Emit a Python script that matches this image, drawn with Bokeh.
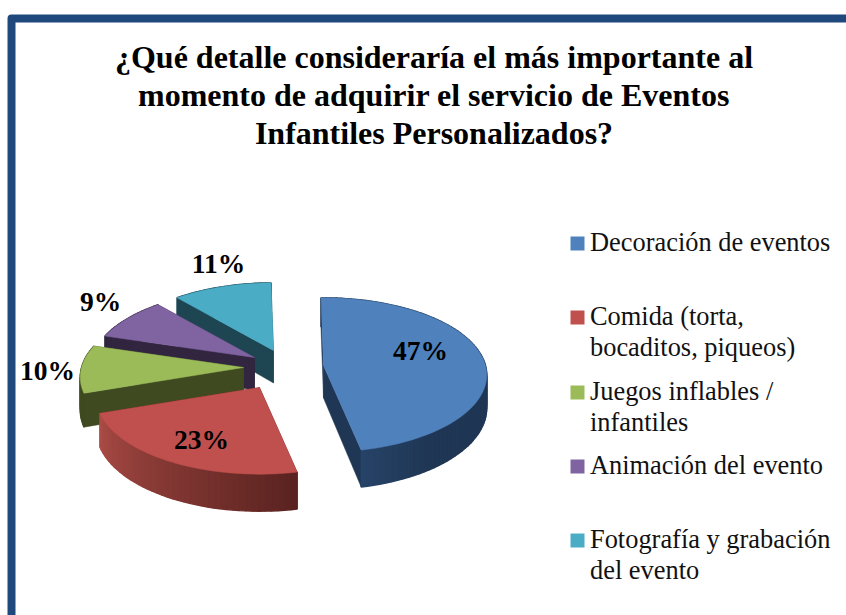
from math import sin, cos, radians
from bokeh.plotting import figure
from bokeh.core.properties import value
from bokeh.embed import file_html
from bokeh.resources import INLINE

# ---- data ----
title_lines = ["¿Qué detalle consideraría el más importante al",
               "momento de adquirir el servicio de Eventos",
               "Infantiles Personalizados?"]
categories = [["Decoración de eventos"],
              ["Comida (torta,", "bocaditos, piqueos)"],
              ["Juegos inflables /", "infantiles"],
              ["Animación del evento"],
              ["Fotografía y grabación", "del evento"]]
values = [47, 23, 10, 9, 11]

# ---- styles ----
top_colors = ["#4f81bd", "#c0504d", "#9bbb59", "#8064a2", "#4bacc6"]
inner_colors = ["#1f3654", "#5a2320", "#3f4a20", "#31253f", "#1e4652"]
wall_start = ["#1f3654", "#aa4b45", "#3f4a20", "#31253f", "#1e4652"]
wall_end = ["#274368", "#5a2320", "#3f4a20", "#31253f", "#1e4652"]
apex = [(323, 365), (259, 387), (243, 367), (254, 357), (273, 350)]
label_pos = [(420, 350), (201, 439), (47, 370), (100, 301), (218, 263)]
legend_y = [243, 317, 392, 466, 540]
legend_text_y = [241.5, 315.5, 390.5, 464.5, 538.5]

RX, RY, Q, DEPTH, ROT = 162, 76, 0.123, 32.5, -1
W, H = 846, 615

p = figure(width=W, height=H, x_range=(0, W), y_range=(H, 0),
           toolbar_location=None, output_backend="svg", min_border=0,
           background_fill_color="white", border_fill_color="white", outline_line_color=None)
p.axis.visible = False
p.grid.visible = False

def project(center, theta, r=1.0, drop=False):
    t = radians(theta)
    u, v = r * sin(t), r * cos(t)
    d = 1 + Q * v
    x = center[0] + RX * u / d
    y = center[1] - RY * v / d + (DEPTH / d if drop else 0)
    return x, y

def hex2rgb(h):
    return [int(h[i:i + 2], 16) for i in (1, 3, 5)]

def mix(a, b, f):
    ca, cb = hex2rgb(a), hex2rgb(b)
    return "#%02x%02x%02x" % tuple(round(x + (y - x) * f) for x, y in zip(ca, cb))

total = sum(values)
starts, acc = [], ROT
for v_ in values:
    starts.append(acc)
    acc += v_ / total * 360

for i in [4, 3, 2, 1, 0]:
    a0, a1 = starts[i], starts[i] + values[i] / total * 360
    c = apex[i]
    for a in (a0, a1):
        x1, y1 = project(c, a)
        x2, y2 = project(c, a, drop=True)
        x0, y0 = project(c, a, r=0)
        x3, y3 = project(c, a, r=0, drop=True)
        p.patch([x0, x1, x2, x3], [y0, y1, y2, y3], fill_color=inner_colors[i],
                line_color=inner_colors[i], line_width=0.5)
    n = max(6, int((a1 - a0) / 2))
    xs, ys, cols = [], [], []
    for k in range(n):
        b0 = a0 + (a1 - a0) * k / n
        b1 = a0 + (a1 - a0) * (k + 1) / n
        p0, p1 = project(c, b0), project(c, b1)
        p2, p3 = project(c, b1, drop=True), project(c, b0, drop=True)
        xs.append([p0[0], p1[0], p2[0], p3[0]])
        ys.append([p0[1], p1[1], p2[1], p3[1]])
        cols.append(mix(wall_end[i], wall_start[i], k / max(1, n - 1)) if i == 1
                    else mix(wall_start[i], wall_end[i], 1 - min(1, (a1 - b0) / 25)))
    p.patches(xs, ys, fill_color=cols, line_color=cols, line_width=1.4)
    arc = [project(c, a0 + (a1 - a0) * k / 80) for k in range(81)]
    p.patch([c[0]] + [q[0] for q in arc], [c[1]] + [q[1] for q in arc],
            fill_color=top_colors[i], line_color=top_colors[i], line_width=0.5)

p.text([q[0] for q in label_pos], [q[1] for q in label_pos], text=[f"{v_}%" for v_ in values],
       text_font=value("Liberation Serif"), text_font_style="bold", text_font_size="27.5px",
       text_color="black", text_align="center", text_baseline="middle")

p.line([11, 11, 900], [700, 18, 18], line_color="#1f497d", line_width=8, line_join="round")

p.text([433.5] * 3, [56, 94, 132], text=title_lines, text_font=value("Liberation Serif"),
       text_font_style="bold", text_font_size="32px", text_color="black",
       text_align="center", text_baseline="middle")

p.scatter([577] * 5, legend_y, size=14, marker="square", fill_color=top_colors, line_color=None)
lx, ly, lt = [], [], []
for y0, lines in zip(legend_text_y, categories):
    for j, t in enumerate(lines):
        lx.append(589.5); ly.append(y0 + j * 31); lt.append(t)
p.text(lx, ly, text=lt, text_font=value("Liberation Serif"), text_font_size="26.4px",
       text_color="#111111", text_align="left", text_baseline="middle")

open("out.html", "w").write(file_html(p, INLINE))
